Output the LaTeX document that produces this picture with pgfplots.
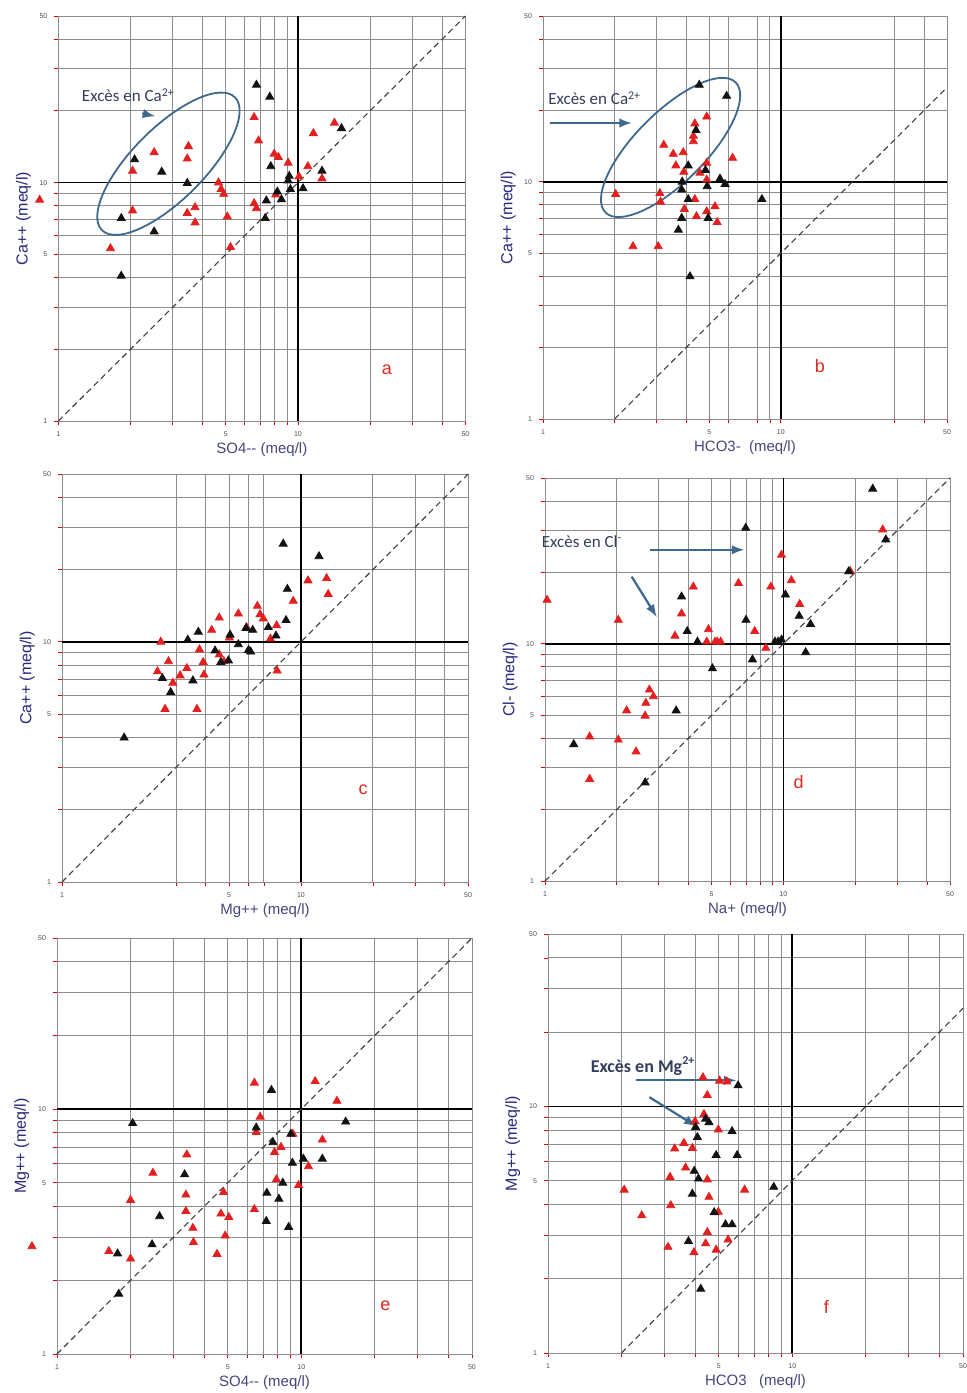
\documentclass[border=0pt]{standalone}
\usepackage{pgfplots}
\pgfplotsset{compat=1.18}
\usepackage{fontspec}
\setmainfont{Liberation Sans}
\newfontfamily\annotfont{Carlito}
\usetikzlibrary{shapes.geometric}
\definecolor{redpt}{RGB}{226,32,32}
\definecolor{blkpt}{RGB}{18,18,18}
\definecolor{annot}{RGB}{62,104,140}
\definecolor{annottxt}{RGB}{52,62,92}
\definecolor{labx}{RGB}{70,70,125}
\definecolor{laby}{RGB}{40,40,125}
\definecolor{letter}{RGB}{222,40,30}
\pgfplotsset{
 panel/.style={
  xmin=1, xmax=50, ymin=1, ymax=50,
  scale only axis, anchor=south west, clip=false,
  xtick={1,5,10,50}, ytick={1,5,10,50},
  xticklabels={1,5,10,50}, yticklabels={1,5,10,50},
  minor xtick={2,3,4,6,7,8,9,20,30,40},
  minor ytick={2,3,4,6,7,8,9,20,30,40},
  grid=both,
  major grid style={black!45, line width=0.45pt},
  minor grid style={black!45, line width=0.45pt},
  axis line style={black!45, line width=0.45pt},
  tick pos=left, tick align=outside,
  major tick length=2pt, minor tick length=2pt,
  tick style={red!85!black, line width=0.4pt},
  tick label style={font=\fontsize{3.5}{4}\selectfont, text=black!70},
  xlabel style={font=\fontsize{7.5}{9}\selectfont, text=labx, at={(axis description cs:0.5,-0.035)}, anchor=north},
  ylabel style={font=\fontsize{8}{9}\selectfont, text=laby, at={(axis description cs:-0.05,0.5)}, anchor=south},
 },
}
\tikzset{
 tenline/.style={black, line width=0.8pt},
 diag/.style={black!75, densely dashed, line width=0.55pt},
 redm/.style={only marks, mark=triangle*, mark size=2.3pt, color=redpt},
 blkm/.style={only marks, mark=triangle*, mark size=2.3pt, color=blkpt},
 letterlab/.style={font=\fontsize{9}{10}\selectfont, text=letter},
 annotlab/.style={font=\annotfont\fontsize{8.5}{9}\selectfont, text=annottxt},
 arr/.style={annot, line width=1.1pt, -latex},
 ell/.style={draw=annot, line width=0.9pt, ellipse, inner sep=0pt, rotate=45},
}
\begin{document}
\begin{tikzpicture}
\useasboundingbox (0,0) rectangle (483.5pt,-696.5pt);

% ---------------- panel a
\begin{loglogaxis}[panel, at={(29.2pt,-210.5pt)}, width=203.5pt, height=202.5pt,
  xlabel={SO4-{}- (meq/l)}, ylabel={Ca++ (meq/l)}]
\addplot[tenline, forget plot] coordinates {(10,1) (10,50)};
\addplot[tenline, forget plot] coordinates {(1,10) (50,10)};
\addplot[diag, forget plot] coordinates {(1,1) (50,50)};
\addplot[redm] coordinates {
(0.835,8.46) (1.65,5.3) (2.04,7.63) (2.04,11.2) (2.51,13.4) (3.49,14.2) (3.45,12.6)
(3.45,7.45) (3.72,7.87) (3.72,6.80) (4.66,10.0) (4.78,9.38) (4.9,8.96) (5.07,7.2)
(5.23,5.36) (6.56,18.8) (6.85,15.0) (6.56,8.18) (6.71,7.8) (7.96,13.2) (8.28,12.8)
(9.1,12.1) (8.07,8.9) (10.1,10.6) (11.0,11.7) (11.6,16.1) (12.6,10.4) (14.2,17.8)};
\addplot[blkm] coordinates {
(1.83,4.06) (1.83,7.09) (2.08,12.5) (2.70,11.1) (2.51,6.23) (3.45,9.95) (6.71,25.7)
(7.63,22.9) (7.38,8.4) (7.3,7.09) (7.7,11.7) (8.2,9.16) (8.53,8.5) (9.3,9.38)
(9.2,10.66) (9.1,10.2) (10.5,9.45) (12.6,11.2) (15.2,16.9)};
\node[ell, minimum width=94pt, minimum height=36pt] at (axis cs:2.88,12.0) {};
\node[annotlab] at (axis cs:1.96,23.3) {Excès en Ca\textsuperscript{2+}};
\draw[arr] (axis cs:2.24,19.5) -- (axis cs:2.53,19.0);
\node[letterlab] at (axis cs:23.5,1.64) {a};
\end{loglogaxis}

% ---------------- panel b
\begin{loglogaxis}[panel, at={(271.5pt,-209.5pt)}, width=202pt, height=201.5pt,
  minor xtick={2,3,4,6,8,9,30,40},
  xlabel={HCO3-\ \ (meq/l)}, ylabel={Ca++ (meq/l)}]
\addplot[tenline, forget plot] coordinates {(10,1) (10,50)};
\addplot[tenline, forget plot] coordinates {(1,10) (50,10)};
\addplot[diag, forget plot] coordinates {(2,1) (50,25)};
\addplot[redm] coordinates {
(2.02,8.87) (2.39,5.34) (3.05,5.34) (3.1,8.95) (3.12,8.23) (3.22,14.3) (3.53,13.1)
(3.62,11.7) (3.89,13.3) (3.91,11.0) (3.93,7.67) (4.35,8.44) (4.29,15.6) (4.35,17.6)
(4.29,14.8) (4.57,10.9) (4.42,7.15) (4.88,18.8) (4.88,12.0) (4.88,10.2) (4.88,7.5)
(5.29,7.87) (5.4,6.75) (6.27,12.6)};
\addplot[blkm] coordinates {
(3.71,6.27) (3.83,7.03) (3.83,9.26) (3.85,10.0) (4.08,11.7) (4.08,8.44) (4.15,3.99)
(4.4,16.5) (4.54,25.6) (4.82,11.2) (4.9,9.56) (4.95,7.03) (5.55,10.3) (5.83,9.77)
(5.92,23.0) (8.33,8.44)};
\node[ell, minimum width=92pt, minimum height=35pt] at (axis cs:3.44,13.96) {};
\node[annotlab] at (axis cs:1.65,22.5) {Excès en Ca\textsuperscript{2+}};
\draw[arr] (axis cs:1.07,17.7) -- (axis cs:2.36,17.7);
\node[letterlab] at (axis cs:14.6,1.67) {b};
\end{loglogaxis}

% ---------------- panel c
\begin{loglogaxis}[panel, at={(31pt,-441pt)}, width=203pt, height=204pt,
  minor xtick={3,4,6,7,20,30,40},
  xlabel={Mg++ (meq/l)}, ylabel={Ca++ (meq/l)}]
\addplot[tenline, forget plot] coordinates {(10,1) (10,50)};
\addplot[tenline, forget plot] coordinates {(1,10) (50,10)};
\addplot[diag, forget plot] coordinates {(1,1) (50,50)};
\addplot[redm] coordinates {
(2.59,10.0) (2.51,7.53) (2.79,8.29) (2.70,5.25) (2.91,6.75) (3.12,7.24) (3.33,7.77)
(3.67,5.25) (3.76,9.29) (3.93,7.3) (3.9,8.23) (4.23,11.2) (4.55,8.85) (4.55,12.6)
(4.76,8.29) (5.02,10.4) (5.47,13.1) (5.92,11.5) (6.57,14.1) (6.74,13.0) (6.96,12.5)
(7.45,10.3) (7.91,11.7) (7.95,7.58) (9.28,14.8) (10.7,18.0) (12.8,18.4) (13.0,15.8)};
\addplot[blkm] coordinates {
(1.82,3.99) (2.63,7.06) (2.85,6.17) (3.36,10.2) (3.53,6.9) (3.72,11.0) (4.37,9.19)
(4.62,8.23) (4.97,8.36) (5.05,10.7) (5.47,9.76) (5.89,11.4) (6.03,9.24) (6.16,9.1)
(6.28,11.2) (7.3,11.5) (7.86,10.6) (8.43,25.6) (8.66,12.3) (8.77,16.6) (11.9,22.7)};
\node[letterlab] at (axis cs:18.2,2.43) {c};
\end{loglogaxis}

% ---------------- panel d
\begin{loglogaxis}[panel, at={(272.5pt,-440.5pt)}, width=202.5pt, height=201.5pt,
  xlabel={Na+ (meq/l)}, ylabel={Cl- (meq/l)}]
\addplot[tenline, forget plot] coordinates {(10,1) (10,50)};
\addplot[tenline, forget plot] coordinates {(1,10) (50,10)};
\addplot[diag, forget plot] coordinates {(1,1) (50,50)};
\addplot[redm] coordinates {
(1.02,15.3) (1.54,4.06) (1.54,2.69) (2.03,12.6) (2.03,3.94) (2.2,5.23) (2.41,3.51)
(2.63,4.97) (2.65,5.63) (2.74,6.4) (2.85,6.0) (3.51,10.8) (3.74,13.4) (4.19,17.4)
(4.77,10.2) (4.85,11.5) (5.17,10.2) (5.28,10.2) (5.46,10.2) (6.48,18.0) (7.58,11.3)
(8.44,9.6) (8.86,17.4) (9.82,23.7) (10.8,18.5) (11.7,14.7) (19.1,20.2) (26.1,30.3)};
\addplot[blkm] coordinates {
(1.32,3.77) (2.63,2.6) (3.55,5.23) (3.74,15.8) (3.95,11.3) (4.36,10.2) (5.04,7.87)
(6.95,30.8) (6.97,12.6) (7.42,8.58) (9.22,10.2) (9.5,10.2) (9.82,10.4) (10.2,16.1)
(11.65,13.1) (12.4,9.2) (13.0,12.1) (18.8,20.2) (23.7,45.0) (26.9,27.5)};
\node[annotlab] at (axis cs:1.43,27.0) {Excès en Cl\textsuperscript{-}};
\draw[arr] (axis cs:2.76,24.9) -- (axis cs:6.84,24.9);
\draw[arr] (axis cs:2.31,19.2) -- (axis cs:2.94,13.0);
\node[letterlab] at (axis cs:11.6,2.62) {d};
\end{loglogaxis}

% ---------------- panel e
\begin{loglogaxis}[panel, at={(28.5pt,-677pt)}, width=207.5pt, height=208pt,
  xlabel={SO4-{}- (meq/l)}, ylabel={Mg++ (meq/l)}]
\addplot[tenline, forget plot] coordinates {(10,1) (10,50)};
\addplot[tenline, forget plot] coordinates {(1,10) (50,10)};
\addplot[diag, forget plot] coordinates {(1,1) (50,50)};
\addplot[redm] coordinates {
(0.79,2.75) (1.63,2.63) (2.0,2.45) (2.0,4.25) (2.47,5.49) (3.4,6.52) (3.37,4.47)
(3.37,3.83) (3.6,3.27) (3.62,2.86) (4.52,2.56) (4.81,4.58) (4.69,3.74) (4.88,3.04)
(5.05,3.62) (6.43,12.8) (6.79,9.3) (6.54,8.05) (8.26,7.0) (7.77,6.67) (9.24,7.92)
(7.91,5.16) (6.43,3.9) (9.75,4.89) (10.7,5.84) (11.4,13.0) (12.2,7.5) (14.0,10.8)};
\addplot[blkm] coordinates {
(1.77,2.57) (1.79,1.76) (2.04,8.76) (2.45,2.8) (2.63,3.65) (3.33,5.41) (7.55,11.96)
(6.54,8.4) (7.66,7.32) (9.07,7.92) (9.2,6.03) (8.4,5.0) (7.23,4.55) (8.1,4.3)
(7.19,3.49) (8.88,3.3) (10.2,6.27) (12.2,6.27) (15.2,8.88)};
\node[letterlab] at (axis cs:22.1,1.57) {e};
\end{loglogaxis}

% ---------------- panel f
\begin{loglogaxis}[panel, at={(274pt,-676.5pt)}, width=207.5pt, height=209.5pt,
  xlabel={HCO3\ \ \ (meq/l)}, ylabel={Mg++ (meq/l)}]
\addplot[tenline, forget plot] coordinates {(10,1) (10,50)};
\addplot[tenline, forget plot] coordinates {(1,10) (50,10)};
\addplot[diag, forget plot] coordinates {(2,1) (50,25)};
\addplot[redm] coordinates {
(2.05,4.59) (2.42,3.61) (3.1,2.69) (3.16,5.17) (3.18,3.97) (3.3,6.74) (3.6,7.1)
(3.66,5.64) (3.9,6.77) (3.96,2.56) (4.0,8.7) (4.35,9.3) (4.31,13.1) (4.49,11.1)
(4.49,5.05) (4.56,4.29) (4.49,3.09) (4.42,2.78) (4.88,2.62) (4.98,8.05) (4.98,3.73)
(5.46,2.88) (5.04,12.7) (5.4,12.6) (6.38,4.59)};
\addplot[blkm] coordinates {
(3.76,2.84) (3.9,4.42) (3.97,5.47) (4.13,5.09) (4.09,7.5) (4.02,8.24) (4.42,8.9)
(4.56,8.62) (4.22,1.82) (4.88,6.34) (4.79,3.72) (5.33,3.32) (5.67,3.32) (5.67,7.93)
(6.0,12.15) (5.95,6.34) (8.4,4.71)};
\node[annotlab, font=\annotfont\bfseries\fontsize{9}{10}\selectfont] at (axis cs:2.45,14.6) {Excès en Mg\textsuperscript{2+}};
\draw[arr] (axis cs:2.29,12.75) -- (axis cs:5.89,12.75);
\draw[arr] (axis cs:2.6,10.9) -- (axis cs:4.05,8.3);
\node[letterlab] at (axis cs:13.8,1.54) {f};
\end{loglogaxis}
\end{tikzpicture}
\end{document}
